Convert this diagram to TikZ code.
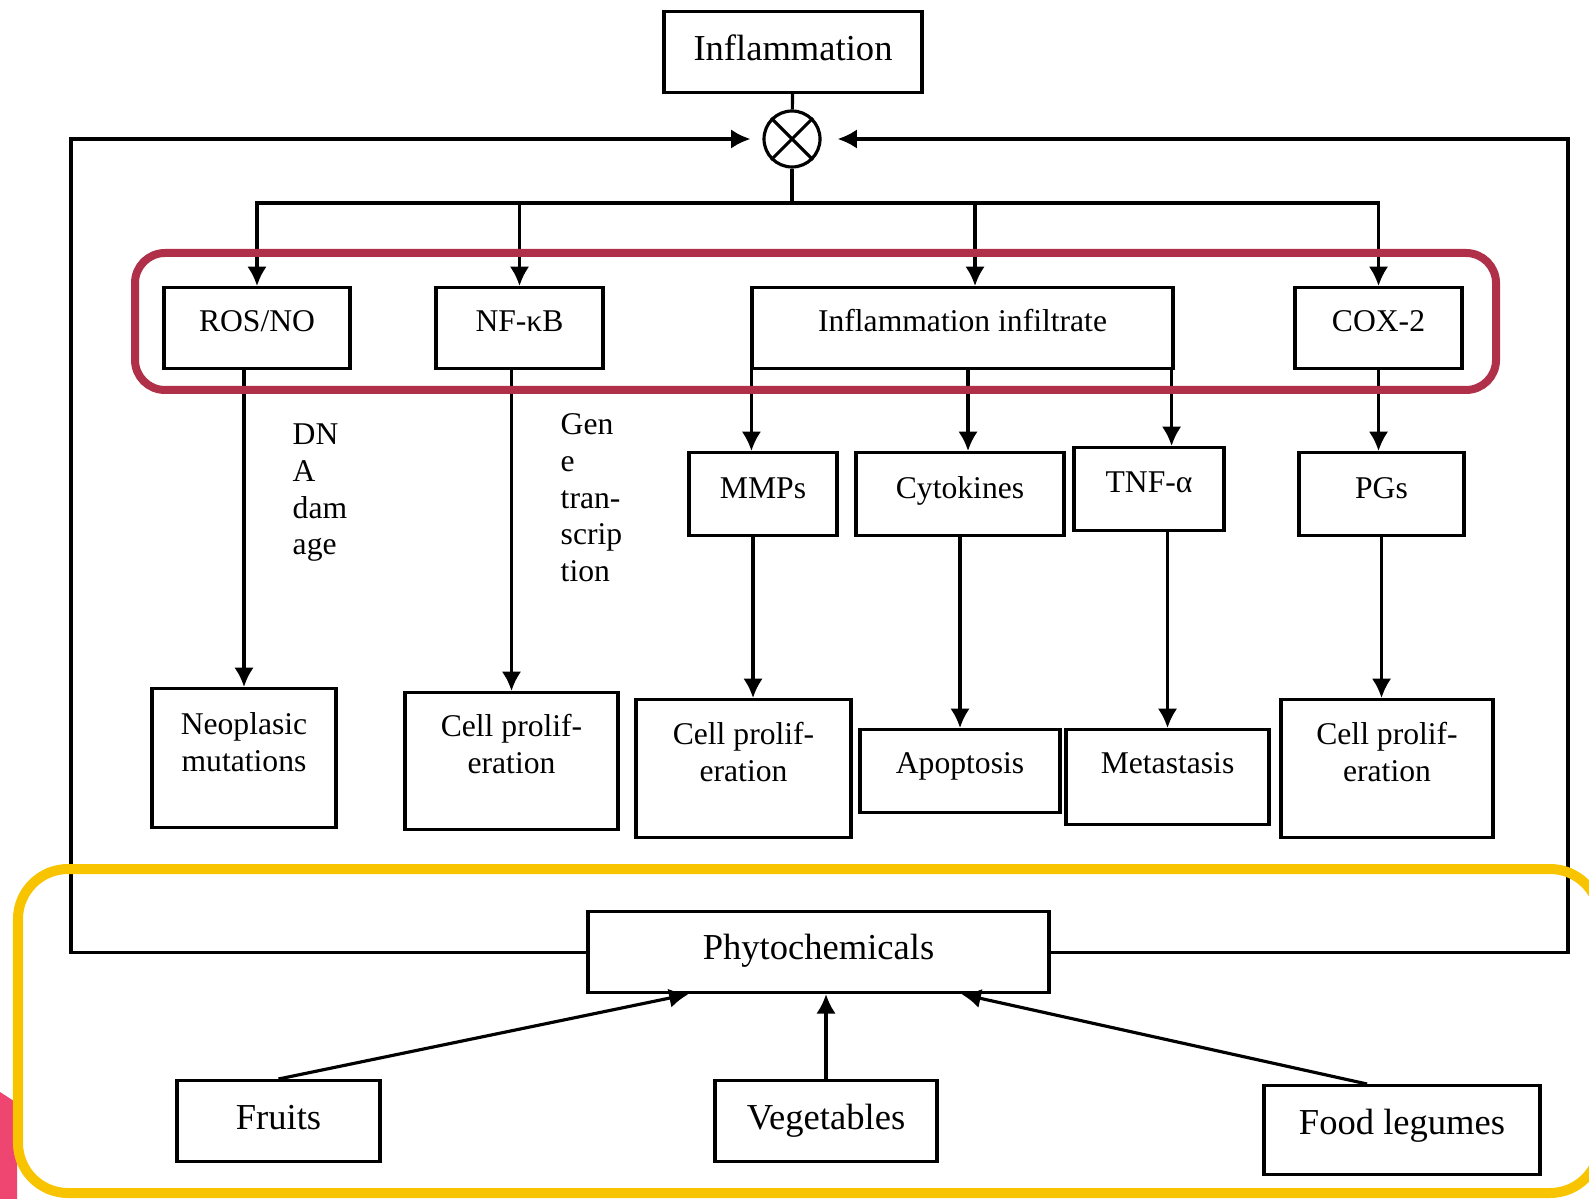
\documentclass[tikz,border=0pt]{standalone}
\usepackage{fontspec}
\setmainfont{Liberation Serif}
\usetikzlibrary{arrows.meta, positioning, calc}
\definecolor{markred}{HTML}{B0304A}
\definecolor{markyellow}{HTML}{F8C400}
\definecolor{markpink}{HTML}{EE4670}
\newcommand{\cstack}[1]{\begin{tabular}[t]{@{}c@{}}#1\end{tabular}}
\newcommand{\lstack}[1]{\begin{tabular}[t]{@{}l@{}}#1\end{tabular}}

\begin{document}
\begin{tikzpicture}[
  box/.style={rectangle, draw, line width=0.9pt, inner sep=0pt, anchor=north, font=\fontsize{9}{10.4}\selectfont, text height=0.44cm, text depth=0.37cm},
  bigbox/.style={box, font=\fontsize{10.4}{12}\selectfont, text height=0.49cm, text depth=0.32cm},
  tallbox/.style={box, text depth=0.93cm},
  note/.style={anchor=base west, inner sep=0pt, font=\fontsize{9}{10.4}\selectfont},
  arrow/.style={-{Latex[length=5.5pt,width=5.5pt]}, line width=0.9pt},
  line/.style={line width=0.9pt}
]
  \useasboundingbox (0,0) rectangle (15.89,-11.99);

  % source and mixing point
  \node[bigbox, minimum width=2.58cm] (inflam) at (7.93,-0.10) {Inflammation};
  \node[circle, draw, line width=0.9pt, minimum size=0.56cm, inner sep=0pt] (mix) at (7.92,-1.39) {};
  \draw[line] (mix.north west) -- (mix.south east) (mix.north east) -- (mix.south west);
  \coordinate (split) at (7.92,-2.03);
  \coordinate (loopl) at (0.71,-9.53);
  \coordinate (loopr) at (15.68,-9.53);

  % first row
  \node[box, minimum width=1.86cm] (ros) at (2.57,-2.86) {ROS/NO};
  \node[box, minimum width=1.67cm] (nfkb) at (5.195,-2.86) {NF-κB};
  \node[box, minimum width=4.21cm] (infil) at (9.625,-2.86) {Inflammation infiltrate};
  \node[box, minimum width=1.67cm] (cox) at (13.785,-2.86) {COX-2};

  % second row
  \node[box, minimum width=1.48cm, text height=0.46cm] (mmps) at (7.63,-4.51) {MMPs};
  \node[box, minimum width=2.08cm, text height=0.46cm] (cyto) at (9.60,-4.51) {Cytokines};
  \node[box, minimum width=1.50cm, text height=0.45cm, text depth=0.38cm] (tnf) at (11.49,-4.46) {TNF-α};
  \node[box, minimum width=1.65cm, text height=0.46cm] (pgs) at (13.815,-4.51) {PGs};

  % effects
  \node[tallbox, minimum width=1.84cm, text height=0.46cm] (neo) at (2.44,-6.87) {\cstack{Neoplasic\\mutations}};
  \node[tallbox, minimum width=2.13cm] (prolifa) at (5.115,-6.91) {\cstack{Cell prolif-\\eration}};
  \node[tallbox, minimum width=2.15cm, text height=0.45cm] (prolifb) at (7.435,-6.98) {\cstack{Cell prolif-\\eration}};
  \node[box, minimum width=2.00cm, text depth=0.39cm] (apop) at (9.60,-7.28) {Apoptosis};
  \node[box, minimum width=2.03cm, text depth=0.51cm] (meta) at (11.675,-7.28) {Metastasis};
  \node[tallbox, minimum width=2.12cm, text height=0.45cm] (prolifc) at (13.87,-6.98) {\cstack{Cell prolif-\\eration}};

  \node[note] (dna) at (2.92,-4.45) {\lstack{DN\\A\\dam\\age}};
  \node[note] (gene) at (5.60,-4.35) {\lstack{Gen\\e\\tran-\\scrip\\tion}};

  % diet
  \node[bigbox, minimum width=4.61cm, text height=0.48cm, text depth=0.33cm] (phyto) at (8.185,-9.10) {Phytochemicals};
  \node[bigbox, minimum width=2.03cm] (fruits) at (2.785,-10.79) {Fruits};
  \node[bigbox, minimum width=2.22cm] (veg) at (8.26,-10.79) {Vegetables};
  \node[bigbox, minimum width=2.76cm, text depth=0.40cm] (legumes) at (14.02,-10.84) {Food legumes};

  % connectors
  \draw[line] (inflam) -- (mix);
  \draw[line] (mix.south) -- (split);
  \draw[arrow] (split) -| (ros.north);
  \draw[arrow] (split) -| (nfkb.north);
  \draw[arrow] (split) -| ([xshift=0.125cm]infil.north);
  \draw[arrow] (split) -| (cox.north);

  \draw[arrow, shorten >=0.12cm] (phyto.west) -- (phyto.west -| loopl) |- (mix.west);
  \draw[arrow, shorten >=0.16cm] (phyto.east) -- (phyto.east -| loopr) |- (mix.east);

  \draw[arrow] ([xshift=0.01cm]infil.south west) -- ([xshift=0.01cm]infil.south west |- mmps.north);
  \draw[arrow] ([xshift=0.055cm]infil.south) -- ([xshift=0.055cm]infil.south |- cyto.north);
  \draw[arrow] ([xshift=-0.03cm]infil.south east) -- ([xshift=-0.03cm]infil.south east |- tnf.north);
  \draw[arrow] (cox.south) -- (cox.south |- pgs.north);

  \draw[arrow] (ros.south -| neo.north) -- (neo.north);
  \draw[arrow] (nfkb.south -| prolifa.north) -- (prolifa.north);
  \draw[arrow] ([xshift=-0.1cm]mmps.south) -- ([xshift=-0.1cm]mmps.south |- prolifb.north);
  \draw[arrow] (cyto.south -| apop.north) -- (apop.north);
  \draw[arrow] (tnf.south -| meta.north) -- (meta.north);
  \draw[arrow] (pgs.south) -- (pgs.south |- prolifc.north);

  \draw[arrow] (fruits.north) -- ([xshift=-1.3cm]phyto.south);
  \draw[arrow] (veg.north) -- (veg.north |- phyto.south);
  \draw[arrow] ([xshift=-0.35cm]legumes.north) -- ([xshift=1.43cm]phyto.south);

  % highlights
  \fill[markpink] (0,-10.92) -- (0.17,-11.03) -- (0.17,-12.0) -- (0,-12.0) -- cycle;
  \draw[markyellow, line width=0.1cm, rounded corners=0.5cm] (0.18,-8.69) rectangle (16.0,-11.93);
  \draw[markred, line width=0.08cm, rounded corners=0.3cm] (1.35,-2.53) rectangle (14.96,-3.90);
\end{tikzpicture}
\end{document}
